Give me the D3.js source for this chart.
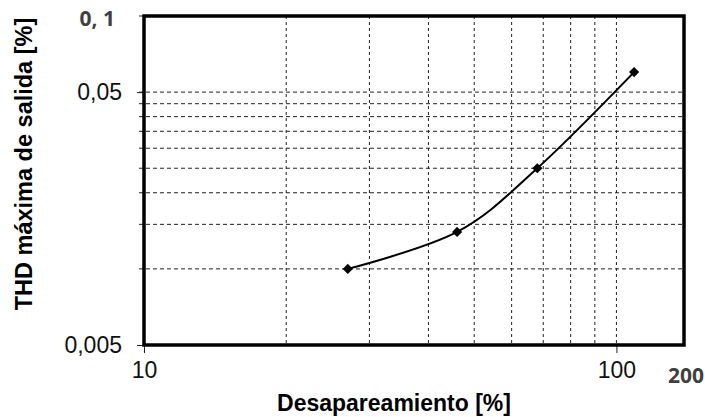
<!DOCTYPE html>
<html>
<head>
<meta charset="utf-8">
<script src="https://cdn.jsdelivr.net/npm/d3@7"></script>
<style>
  body { margin: 0; background: #fff; }
  svg { display: block; }
</style>
</head>
<body>
<div id="chart"></div>
<script>
// data
const mismatch = [27, 46, 68, 109];
const thd = [0.01, 0.014, 0.025, 0.06];

const xTicks = [10, 100];
const xTickLabels = ['10', '100'];
const xEndLabel = '200';
const xGrid = [20, 30, 40, 50, 60, 70, 80, 90, 100];

const yTicks = [0.005, 0.05];
const yTickLabels = ['0,005', '0,05'];
const yTopLabel = '0, 1';
const yGrid = [0.01, 0.015, 0.02, 0.025, 0.03, 0.035, 0.04, 0.045, 0.05];

const xTitle = 'Desapareamiento [%]';
const yTitle = 'THD máxima de salida [%]';

const width = 705;
const height = 417;
const margin = { top: 16, right: 21, bottom: 72, left: 144 };

const x_scale = d3.scaleLog()
  .domain([10, 139])
  .range([margin.left, width - margin.right]);
const y_scale = d3.scaleLog()
  .domain([0.005, 0.1])
  .range([height - margin.bottom, margin.top]);

const svg = d3.select('#chart')
  .append('svg')
  .attr('width', width)
  .attr('height', height);

// gridlines
svg.append('g')
  .selectAll('line')
  .data(xGrid)
  .join('line')
  .attr('x1', d => x_scale(d))
  .attr('x2', d => x_scale(d))
  .attr('y1', margin.top)
  .attr('y2', height - margin.bottom)
  .attr('stroke', '#222')
  .attr('stroke-width', 1)
  .attr('stroke-dasharray', '3,3');

svg.append('g')
  .selectAll('line')
  .data(yGrid)
  .join('line')
  .attr('x1', margin.left - 5)
  .attr('x2', width - margin.right)
  .attr('y1', d => y_scale(d))
  .attr('y2', d => y_scale(d))
  .attr('stroke', '#222')
  .attr('stroke-width', 1)
  .attr('stroke-dasharray', '4,3');

// x axis ticks + labels
const x_axis = d3.axisBottom(x_scale)
  .tickValues(xTicks)
  .tickFormat((d, i) => xTickLabels[i])
  .tickSizeInner(8)
  .tickSizeOuter(0)
  .tickPadding(9);

const xAxis = svg.append('g')
  .attr('transform', `translate(0, ${height - margin.bottom})`)
  .call(x_axis);
xAxis.select('.domain').remove();
xAxis.selectAll('line').attr('stroke', '#222');
xAxis.selectAll('text')
  .attr('fill', '#111')
  .style('font-family', 'Liberation Sans, Arial, sans-serif')
  .style('font-size', '23px');

svg.append('text')
  .attr('x', x_scale.range()[1] + 2)
  .attr('y', height - margin.bottom + 38)
  .attr('text-anchor', 'middle')
  .attr('fill', '#404040')
  .style('font-family', 'Open Sans, sans-serif')
  .style('font-weight', 'bold')
  .style('font-size', '21px')
  .text(xEndLabel);

// y axis ticks + labels
const y_axis = d3.axisLeft(y_scale)
  .tickValues(yTicks)
  .tickFormat((d, i) => yTickLabels[i])
  .tickSizeInner(7)
  .tickSizeOuter(0)
  .tickPadding(15);

const yAxis = svg.append('g')
  .attr('transform', `translate(${margin.left}, 0)`)
  .call(y_axis);
yAxis.select('.domain').remove();
yAxis.selectAll('line').attr('stroke', '#222');
yAxis.selectAll('text')
  .attr('fill', '#111')
  .style('font-family', 'Liberation Sans, Arial, sans-serif')
  .style('font-size', '23px');

svg.append('line')
  .attr('x1', margin.left - 5)
  .attr('x2', margin.left)
  .attr('y1', y_scale(0.1))
  .attr('y2', y_scale(0.1))
  .attr('stroke', '#222');

svg.append('text')
  .attr('x', margin.left - 29)
  .attr('y', y_scale(0.1) + 10)
  .attr('text-anchor', 'end')
  .attr('fill', '#404040')
  .style('font-family', 'Open Sans, sans-serif')
  .style('font-weight', 'bold')
  .style('font-size', '21px')
  .text(yTopLabel);

// plot border
svg.append('rect')
  .attr('x', margin.left)
  .attr('y', margin.top)
  .attr('width', width - margin.left - margin.right)
  .attr('height', height - margin.top - margin.bottom)
  .attr('fill', 'none')
  .attr('stroke', '#000')
  .attr('stroke-width', 3.5);

// series
const data = mismatch.map((m, i) => ({ x: m, y: thd[i] }));

const line = d3.line()
  .x(d => x_scale(d.x))
  .y(d => y_scale(d.y))
  .curve(d3.curveCardinal.tension(0));

svg.append('path')
  .datum(data)
  .attr('d', line)
  .attr('fill', 'none')
  .attr('stroke', '#000')
  .attr('stroke-width', 2);

svg.append('g')
  .selectAll('path')
  .data(data)
  .join('path')
  .attr('transform', d => `translate(${x_scale(d.x)}, ${y_scale(d.y)}) rotate(45)`)
  .attr('d', d3.symbol(d3.symbolSquare, 52))
  .attr('fill', '#000');

// titles
svg.append('text')
  .attr('x', 394)
  .attr('y', 411)
  .attr('text-anchor', 'middle')
  .attr('fill', '#000')
  .style('font-family', 'Liberation Sans, Arial, sans-serif')
  .style('font-weight', 'bold')
  .style('font-size', '23px')
  .text(xTitle);

svg.append('text')
  .attr('transform', 'translate(32, 164) rotate(-90)')
  .attr('text-anchor', 'middle')
  .attr('fill', '#000')
  .style('font-family', 'Liberation Sans, Arial, sans-serif')
  .style('font-weight', 'bold')
  .style('font-size', '23.5px')
  .text(yTitle);
</script>
</body>
</html>
